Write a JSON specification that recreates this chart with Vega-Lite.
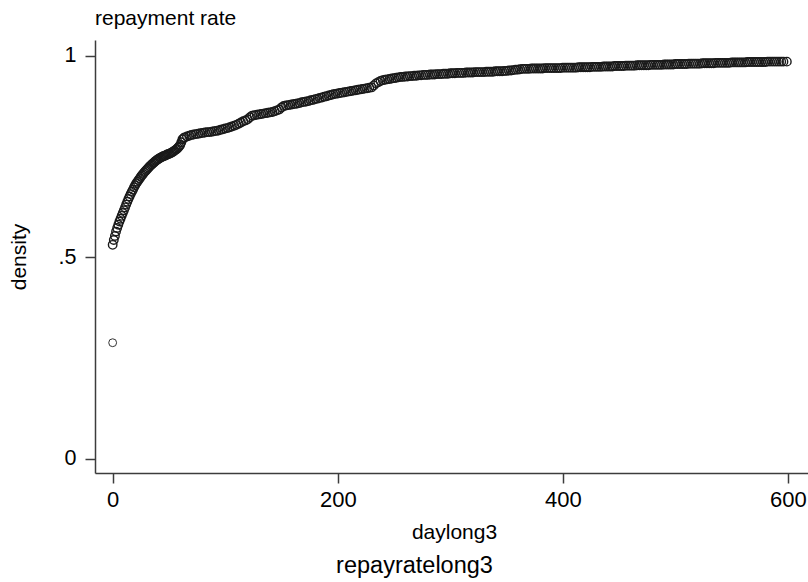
{
  "$schema": "https://vega.github.io/schema/vega-lite/v6.json",
  "autosize": "none",
  "width": 713,
  "height": 433,
  "padding": {"left": 95, "top": 40, "right": 0, "bottom": 109},
  "background": "white",
  "config": {"view": {"stroke": null}, "font": "Liberation Sans"},
  "title": {"text": "repayment rate", "anchor": "start", "frame": "group", "orient": "top", "fontSize": 21, "font": "Liberation Sans", "fontWeight": "normal", "color": "#000000", "baseline": "alphabetic", "offset": -6},
  "data": {"values": [
    {"d":0,"r":0.288},
    {"d":0,"r":0.531},{"d":1,"r":0.543},{"d":2,"r":0.553},{"d":3,"r":0.564},{"d":4,"r":0.573},{"d":5,"r":0.581},{"d":6,"r":0.589},{"d":7,"r":0.596},{"d":8,"r":0.603},{"d":9,"r":0.610},
    {"d":10,"r":0.617},{"d":11,"r":0.624},{"d":12,"r":0.631},{"d":13,"r":0.638},{"d":14,"r":0.645},{"d":15,"r":0.651},{"d":16,"r":0.657},{"d":17,"r":0.663},{"d":18,"r":0.668},{"d":19,"r":0.674},
    {"d":20,"r":0.679},{"d":21,"r":0.684},{"d":22,"r":0.688},{"d":23,"r":0.692},{"d":24,"r":0.696},{"d":25,"r":0.700},{"d":26,"r":0.704},{"d":27,"r":0.707},{"d":28,"r":0.711},{"d":29,"r":0.714},
    {"d":30,"r":0.717},{"d":31,"r":0.720},{"d":32,"r":0.723},{"d":33,"r":0.726},{"d":34,"r":0.729},{"d":35,"r":0.731},{"d":36,"r":0.734},{"d":37,"r":0.736},{"d":38,"r":0.739},{"d":39,"r":0.741},
    {"d":40,"r":0.743},{"d":41,"r":0.745},{"d":42,"r":0.747},{"d":43,"r":0.748},{"d":44,"r":0.750},{"d":45,"r":0.751},{"d":46,"r":0.752},{"d":47,"r":0.753},{"d":48,"r":0.755},{"d":49,"r":0.756},
    {"d":50,"r":0.757},{"d":51,"r":0.758},{"d":52,"r":0.760},{"d":53,"r":0.761},{"d":54,"r":0.763},{"d":55,"r":0.765},{"d":56,"r":0.767},{"d":57,"r":0.769},{"d":58,"r":0.772},{"d":59,"r":0.775},
    {"d":60,"r":0.779},{"d":61,"r":0.786},{"d":62,"r":0.793},{"d":63,"r":0.796},
    {"d":64,"r":0.798},{"d":66,"r":0.800},{"d":68,"r":0.802},{"d":70,"r":0.804},{"d":72,"r":0.805},{"d":74,"r":0.806},{"d":76,"r":0.807},{"d":78,"r":0.808},{"d":80,"r":0.809},{"d":82,"r":0.810},
    {"d":84,"r":0.811},{"d":86,"r":0.811},{"d":88,"r":0.812},{"d":90,"r":0.813},{"d":92,"r":0.814},{"d":94,"r":0.815},{"d":96,"r":0.817},{"d":98,"r":0.818},{"d":100,"r":0.820},{"d":102,"r":0.821},
    {"d":104,"r":0.823},{"d":106,"r":0.825},{"d":108,"r":0.827},{"d":110,"r":0.829},{"d":112,"r":0.832},{"d":114,"r":0.835},{"d":116,"r":0.838},{"d":118,"r":0.840},{"d":120,"r":0.843},{"d":122,"r":0.848},
    {"d":124,"r":0.852},{"d":126,"r":0.853},{"d":128,"r":0.854},{"d":130,"r":0.855},{"d":132,"r":0.856},{"d":134,"r":0.857},{"d":136,"r":0.858},{"d":138,"r":0.859},{"d":140,"r":0.860},{"d":142,"r":0.861},
    {"d":144,"r":0.863},{"d":146,"r":0.865},{"d":148,"r":0.867},{"d":150,"r":0.872},{"d":152,"r":0.876},{"d":154,"r":0.877},{"d":156,"r":0.878},{"d":158,"r":0.879},{"d":160,"r":0.880},{"d":162,"r":0.881},
    {"d":164,"r":0.882},{"d":166,"r":0.883},{"d":168,"r":0.885},{"d":170,"r":0.886},{"d":172,"r":0.887},{"d":174,"r":0.888},{"d":176,"r":0.890},{"d":178,"r":0.891},{"d":180,"r":0.893},{"d":182,"r":0.894},
    {"d":184,"r":0.896},{"d":186,"r":0.897},{"d":188,"r":0.899},{"d":190,"r":0.900},{"d":192,"r":0.902},{"d":194,"r":0.903},{"d":196,"r":0.905},{"d":198,"r":0.906},{"d":200,"r":0.907},{"d":202,"r":0.908},
    {"d":204,"r":0.909},{"d":206,"r":0.910},{"d":208,"r":0.911},{"d":210,"r":0.912},{"d":212,"r":0.913},{"d":214,"r":0.914},{"d":216,"r":0.915},{"d":218,"r":0.916},{"d":220,"r":0.917},{"d":222,"r":0.918},
    {"d":224,"r":0.919},{"d":226,"r":0.920},{"d":228,"r":0.921},{"d":230,"r":0.922},{"d":232,"r":0.927},{"d":234,"r":0.932},{"d":236,"r":0.935},{"d":238,"r":0.938},{"d":240,"r":0.940},{"d":242,"r":0.941},
    {"d":244,"r":0.942},{"d":246,"r":0.943},{"d":248,"r":0.944},{"d":250,"r":0.945},{"d":252,"r":0.946},{"d":254,"r":0.947},{"d":256,"r":0.948},{"d":258,"r":0.948},{"d":260,"r":0.949},{"d":262,"r":0.949},
    {"d":264,"r":0.950},{"d":266,"r":0.950},{"d":268,"r":0.951},{"d":270,"r":0.951},{"d":272,"r":0.952},{"d":274,"r":0.952},{"d":276,"r":0.953},{"d":278,"r":0.953},{"d":280,"r":0.953},{"d":282,"r":0.954},
    {"d":284,"r":0.954},{"d":286,"r":0.954},{"d":288,"r":0.955},{"d":290,"r":0.955},{"d":292,"r":0.955},{"d":294,"r":0.956},{"d":296,"r":0.956},{"d":298,"r":0.956},{"d":300,"r":0.957},{"d":302,"r":0.957},
    {"d":304,"r":0.957},{"d":306,"r":0.958},{"d":308,"r":0.958},{"d":310,"r":0.958},{"d":312,"r":0.958},{"d":314,"r":0.959},{"d":316,"r":0.959},{"d":318,"r":0.959},{"d":320,"r":0.959},{"d":322,"r":0.960},
    {"d":324,"r":0.960},{"d":326,"r":0.960},{"d":328,"r":0.960},{"d":330,"r":0.960},{"d":332,"r":0.961},{"d":334,"r":0.961},{"d":336,"r":0.961},{"d":338,"r":0.961},{"d":340,"r":0.962},{"d":342,"r":0.962},
    {"d":344,"r":0.962},{"d":346,"r":0.962},{"d":348,"r":0.963},{"d":350,"r":0.963},{"d":352,"r":0.964},{"d":354,"r":0.964},{"d":356,"r":0.965},{"d":358,"r":0.966},{"d":360,"r":0.966},{"d":362,"r":0.967},
    {"d":364,"r":0.968},{"d":366,"r":0.968},{"d":368,"r":0.968},{"d":370,"r":0.968},{"d":372,"r":0.969},{"d":374,"r":0.969},{"d":376,"r":0.969},{"d":378,"r":0.969},{"d":380,"r":0.969},{"d":382,"r":0.969},
    {"d":384,"r":0.970},{"d":386,"r":0.970},{"d":388,"r":0.970},{"d":390,"r":0.970},{"d":392,"r":0.970},{"d":394,"r":0.970},{"d":396,"r":0.970},{"d":398,"r":0.970},{"d":400,"r":0.971},{"d":402,"r":0.971},
    {"d":404,"r":0.971},{"d":406,"r":0.971},{"d":408,"r":0.971},{"d":410,"r":0.971},{"d":412,"r":0.971},{"d":414,"r":0.972},{"d":416,"r":0.972},{"d":418,"r":0.972},{"d":420,"r":0.972},{"d":422,"r":0.972},
    {"d":424,"r":0.972},{"d":426,"r":0.973},{"d":428,"r":0.973},{"d":430,"r":0.973},{"d":432,"r":0.973},{"d":434,"r":0.973},{"d":436,"r":0.974},{"d":438,"r":0.974},{"d":440,"r":0.974},{"d":442,"r":0.974},
    {"d":444,"r":0.974},{"d":446,"r":0.975},{"d":448,"r":0.975},{"d":450,"r":0.975},{"d":452,"r":0.975},{"d":454,"r":0.975},{"d":456,"r":0.976},{"d":458,"r":0.976},{"d":460,"r":0.976},{"d":462,"r":0.976},
    {"d":464,"r":0.976},{"d":466,"r":0.977},{"d":468,"r":0.977},{"d":470,"r":0.977},{"d":472,"r":0.977},{"d":474,"r":0.977},{"d":476,"r":0.977},{"d":478,"r":0.978},{"d":480,"r":0.978},{"d":482,"r":0.978},
    {"d":484,"r":0.978},{"d":486,"r":0.978},{"d":488,"r":0.978},{"d":490,"r":0.979},{"d":492,"r":0.979},{"d":494,"r":0.979},{"d":496,"r":0.979},{"d":498,"r":0.979},{"d":500,"r":0.980},{"d":502,"r":0.980},
    {"d":504,"r":0.980},{"d":506,"r":0.980},{"d":508,"r":0.980},{"d":510,"r":0.980},{"d":512,"r":0.981},{"d":514,"r":0.981},{"d":516,"r":0.981},{"d":518,"r":0.981},{"d":520,"r":0.981},{"d":522,"r":0.981},
    {"d":524,"r":0.982},{"d":526,"r":0.982},{"d":528,"r":0.982},{"d":530,"r":0.982},{"d":532,"r":0.982},{"d":534,"r":0.982},{"d":536,"r":0.983},{"d":538,"r":0.983},{"d":540,"r":0.983},{"d":542,"r":0.983},
    {"d":544,"r":0.983},{"d":546,"r":0.983},{"d":548,"r":0.983},{"d":550,"r":0.984},{"d":552,"r":0.984},{"d":554,"r":0.984},{"d":556,"r":0.984},{"d":558,"r":0.984},{"d":560,"r":0.984},{"d":562,"r":0.984},
    {"d":564,"r":0.985},{"d":566,"r":0.985},{"d":568,"r":0.985},{"d":570,"r":0.985},{"d":572,"r":0.985},{"d":574,"r":0.985},{"d":576,"r":0.985},{"d":578,"r":0.985},{"d":580,"r":0.985},{"d":582,"r":0.986},
    {"d":584,"r":0.986},{"d":586,"r":0.986},{"d":588,"r":0.986},{"d":590,"r":0.986},{"d":592,"r":0.986},{"d":594,"r":0.986},{"d":596,"r":0.986},{"d":599,"r":0.986}
  ]},
  "encoding": {
    "y": {
      "field": "r", "type": "quantitative",
      "scale": {"domain": [-0.0355, 1.0397], "nice": false, "zero": false},
      "axis": {
        "values": [0, 0.5, 1],
        "labelExpr": "datum.value == 0.5 ? '.5' : '' + datum.value",
        "title": "density", "titleFont": "Liberation Sans", "titleFontSize": 21, "titleFontWeight": "normal", "titleColor": "#000000",
        "titleX": -70, "titleY": 216.5, "titleAngle": 270, "titleAlign": "center", "titleBaseline": "alphabetic",
        "labelFont": "Liberation Sans", "labelFontSize": 21.5, "labelColor": "#000000", "labelPadding": 9,
        "tickSize": 10, "tickColor": "#3c3c3c", "tickWidth": 1.5,
        "domainColor": "#3c3c3c", "domainWidth": 1.5, "grid": false, "labelFlush": false, "labelOverlap": false
      }
    }
  },
  "layer": [
    {
      "transform": [{"filter": "datum.r > 0.4"}],
      "mark": {"type": "point", "shape": "circle", "filled": false, "size": 72, "strokeWidth": 1.4, "color": "#1a1a1a", "opacity": 1},
      "encoding": {
        "x": {
          "field": "d", "type": "quantitative",
          "scale": {"domain": [-15.7, 617.8], "nice": false, "zero": false},
          "axis": {
            "orient": "bottom", "values": [0, 200, 400, 600],
            "title": "daylong3", "titleFont": "Liberation Sans", "titleFontSize": 21, "titleFontWeight": "normal", "titleColor": "#000000",
            "titleX": 359, "titleY": 65, "titleAlign": "center", "titleBaseline": "alphabetic",
            "labelFont": "Liberation Sans", "labelFontSize": 22, "labelColor": "#000000", "labelPadding": 6,
            "tickSize": 10, "tickColor": "#3c3c3c", "tickWidth": 1.5,
            "domainColor": "#3c3c3c", "domainWidth": 1.5, "grid": false, "labelFlush": false, "labelOverlap": false
          }
        }
      }
    },
    {
      "transform": [{"filter": "datum.r <= 0.4"}],
      "mark": {"type": "point", "shape": "circle", "filled": false, "size": 62, "strokeWidth": 1, "color": "#333333", "opacity": 1},
      "encoding": {
        "x": {
          "field": "d", "type": "quantitative",
          "scale": {"domain": [-15.7, 617.8], "nice": false, "zero": false},
          "axis": {
            "orient": "bottom", "title": "repayratelong3", "titleFont": "Liberation Sans", "titleFontSize": 23.5, "titleFontWeight": "normal", "titleColor": "#000000",
            "titleX": 319, "titleY": 99, "titleAlign": "center", "titleBaseline": "alphabetic",
            "labels": false, "ticks": false, "domain": false, "grid": false
          }
        }
      }
    }
  ],
  "resolve": {"axis": {"x": "independent"}}
}
